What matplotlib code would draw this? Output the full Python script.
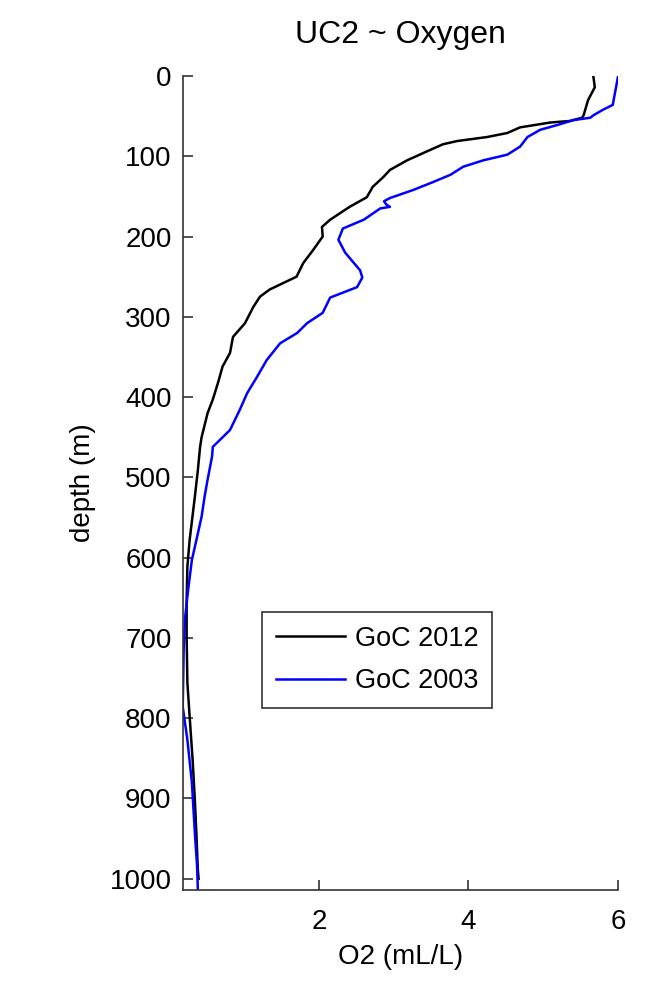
import matplotlib
matplotlib.use('Agg')
import matplotlib.pyplot as plt

plt.rcParams['font.family'] = ['Liberation Sans', 'DejaVu Sans']

# GoC 2012 profile (depth in m, O2 in mL/L)
depth_2012 = [0, 14, 30, 49, 52, 56, 58, 64, 71, 76, 81, 85, 92, 105, 117, 126, 138,
              151, 163, 171, 179, 188, 200, 217, 233, 250, 258, 266, 275, 288, 308,
              325, 345, 362, 382, 403, 420, 450, 462, 491, 524, 578, 611, 653, 699,
              756, 798, 852, 902, 943, 989, 1000]
o2_2012 = [5.67, 5.69, 5.60, 5.54, 5.52, 5.36, 5.09, 4.69, 4.52, 4.25, 3.85, 3.66, 3.49,
           3.18, 2.95, 2.86, 2.72, 2.64, 2.41, 2.28, 2.15, 2.04, 2.05, 1.92, 1.79, 1.70,
           1.52, 1.34, 1.21, 1.12, 1.01, 0.85, 0.81, 0.71, 0.65, 0.58, 0.51, 0.43, 0.41,
           0.38, 0.34, 0.27, 0.24, 0.23, 0.23, 0.24, 0.27, 0.31, 0.34, 0.36, 0.38, 0.39]

# GoC 2003 profile
depth_2003 = [1, 26, 36, 42, 49, 52, 55, 61, 67, 76, 88, 98, 105, 113, 123, 132, 142,
              152, 156, 160, 163, 165, 179, 190, 204, 220, 242, 251, 263, 276, 295, 308,
              320, 333, 354, 375, 395, 416, 441, 462, 474, 503, 524, 549, 574, 603, 640,
              674, 715, 786, 827, 880, 943, 985, 1014]
o2_2003 = [6.00, 5.95, 5.93, 5.80, 5.67, 5.63, 5.40, 5.19, 4.96, 4.79, 4.69, 4.52, 4.20,
           3.93, 3.76, 3.53, 3.26, 2.95, 2.87, 2.90, 2.95, 2.82, 2.60, 2.32, 2.26, 2.35,
           2.55, 2.58, 2.51, 2.15, 2.05, 1.84, 1.71, 1.48, 1.30, 1.17, 1.04, 0.94, 0.81,
           0.58, 0.57, 0.51, 0.47, 0.43, 0.37, 0.30, 0.25, 0.21, 0.19, 0.178, 0.24, 0.30,
           0.34, 0.37, 0.38]

fig = plt.figure(figsize=(6.67, 10), dpi=100)
ax = fig.add_axes([0.274, 0.11, 0.6525, 0.814])

ax.plot(o2_2012, depth_2012, color='black', lw=1.8, label='GoC 2012')
ax.plot(o2_2003, depth_2003, color='#0000ff', lw=1.8, label='GoC 2003')

ax.set_xlim(min(o2_2003), max(o2_2003))
ax.set_ylim(1014, 0)
ax.set_xticks([2, 4, 6])
ax.set_yticks(range(0, 1001, 100))

for s in ['top', 'right']:
    ax.spines[s].set_visible(False)
for s in ['left', 'bottom']:
    ax.spines[s].set_color('#333333')
    ax.spines[s].set_linewidth(1.2)

ax.tick_params(direction='in', length=7, width=1.2, color='#333333', labelsize=20)
ax.tick_params(axis='x', pad=14)
ax.tick_params(axis='y', pad=8)

ax.set_xlabel('O2 (mL/L)', fontsize=20, labelpad=6)
ax.set_ylabel('depth (m)', fontsize=20, labelpad=10)
ax.set_title('UC2 ~ Oxygen', fontsize=23, pad=24)

leg = ax.legend(loc='lower left', bbox_to_anchor=(0.182, 0.224), fontsize=19.5,
                fancybox=False, framealpha=1, edgecolor='#333333',
                handlelength=2.55, handletextpad=0.37, labelspacing=0.6,
                borderpad=0.5, borderaxespad=0)
leg.get_frame().set_linewidth(1.2)

fig.savefig('out.png', dpi=100)
